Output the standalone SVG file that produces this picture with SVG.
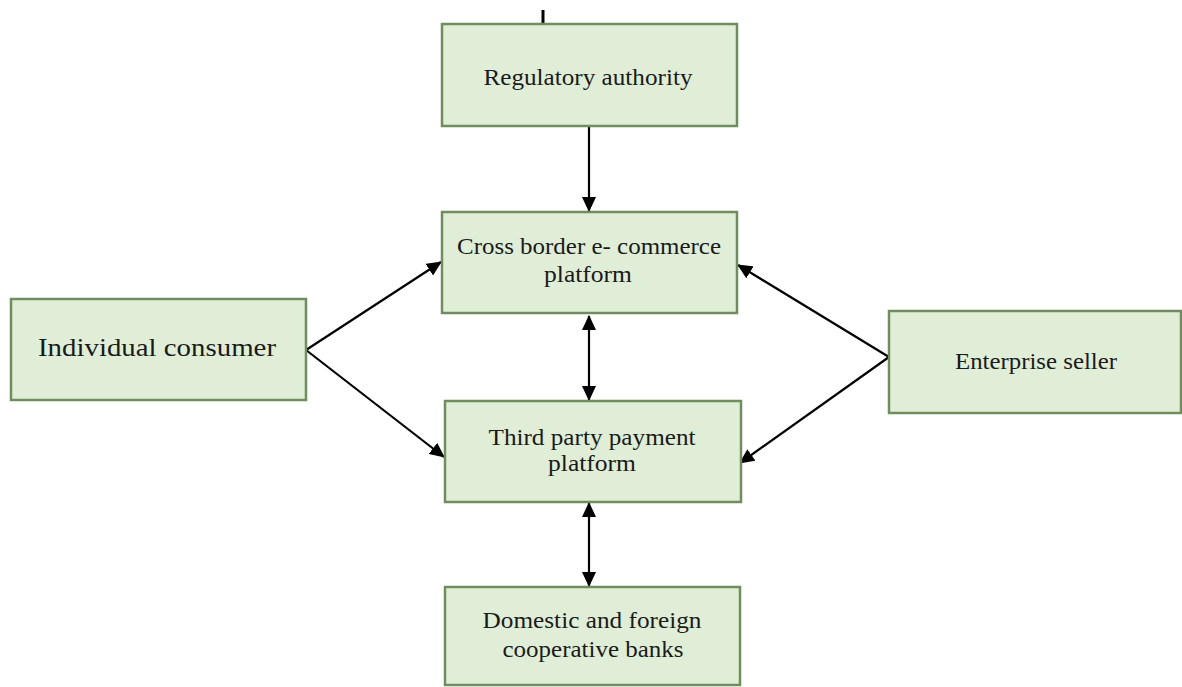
<svg xmlns="http://www.w3.org/2000/svg" width="1182" height="687" viewBox="0 0 1182 687">
<style>
.box{fill:#e0eed8;stroke:#6f8d5e;stroke-width:2.5}
.t{font-family:"Liberation Serif",serif;font-size:23px;fill:#1a1a1a;text-anchor:middle}
.c{stroke:#000;stroke-width:2.2;fill:none}
</style>
<defs>
<marker id="ah" viewBox="0 0 15 14" refX="14" refY="7" markerWidth="15" markerHeight="14" markerUnits="userSpaceOnUse" orient="auto-start-reverse">
<path d="M0,0 L15,7 L0,14 Z" fill="#000"/>
</marker>
</defs>
<rect width="1182" height="687" fill="#fff"/>
<g id="connectors">
<line x1="543" y1="10" x2="543" y2="27" stroke="#000" stroke-width="3"/>
<line class="c" x1="589" y1="126" x2="589" y2="211" marker-end="url(#ah)"/>
<line class="c" x1="589" y1="316" x2="589" y2="400" marker-start="url(#ah)" marker-end="url(#ah)"/>
<line class="c" x1="589" y1="503" x2="589" y2="586" marker-start="url(#ah)" marker-end="url(#ah)"/>
<line class="c" x1="306" y1="350" x2="441" y2="262" marker-end="url(#ah)"/>
<line class="c" x1="306" y1="350" x2="444" y2="457" marker-end="url(#ah)"/>
<line class="c" x1="889" y1="357" x2="738" y2="265" marker-end="url(#ah)"/>
<line class="c" x1="889" y1="357" x2="740" y2="463" marker-end="url(#ah)"/>
</g>
<g id="regulatory">
<rect class="box" x="442" y="24" width="295" height="102"/>
<text class="t" x="588" y="85" textLength="209" lengthAdjust="spacingAndGlyphs">Regulatory authority</text>
</g>
<g id="crossborder">
<rect class="box" x="442" y="212" width="295" height="101"/>
<text class="t" x="589" y="254" textLength="264" lengthAdjust="spacingAndGlyphs">Cross border e- commerce</text>
<text class="t" x="588" y="282" textLength="88" lengthAdjust="spacingAndGlyphs">platform</text>
</g>
<g id="thirdparty">
<rect class="box" x="445" y="401" width="296" height="101"/>
<text class="t" x="592" y="445" textLength="207" lengthAdjust="spacingAndGlyphs">Third party payment</text>
<text class="t" x="592" y="471" textLength="88" lengthAdjust="spacingAndGlyphs">platform</text>
</g>
<g id="banks">
<rect class="box" x="445" y="587" width="295" height="98"/>
<text class="t" x="592" y="628" textLength="219" lengthAdjust="spacingAndGlyphs">Domestic and foreign</text>
<text class="t" x="593" y="657" textLength="181" lengthAdjust="spacingAndGlyphs">cooperative banks</text>
</g>
<g id="consumer">
<rect class="box" x="11" y="299" width="295" height="101"/>
<text class="t" x="157" y="356" style="font-size:26px" textLength="238" lengthAdjust="spacingAndGlyphs">Individual consumer</text>
</g>
<g id="seller">
<rect class="box" x="889" y="311" width="292" height="102"/>
<text class="t" x="1036" y="369" style="font-size:24px" textLength="162" lengthAdjust="spacingAndGlyphs">Enterprise seller</text>
</g>
</svg>
